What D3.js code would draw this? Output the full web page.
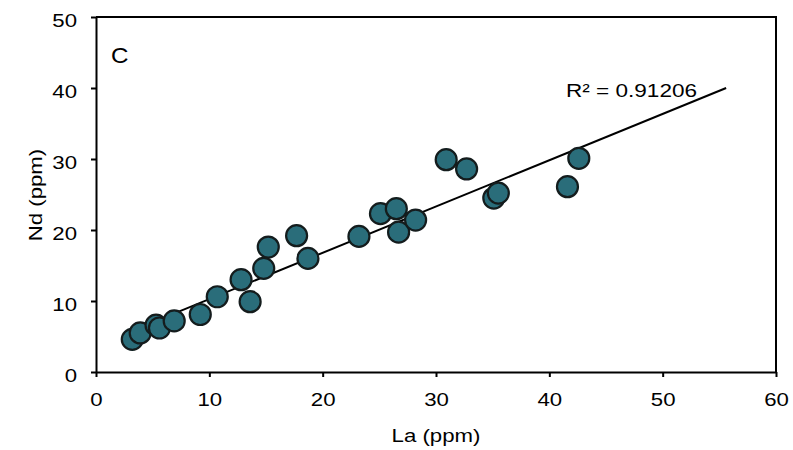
<!DOCTYPE html>
<html>
<head>
<meta charset="utf-8">
<script src="https://cdn.jsdelivr.net/npm/d3@7"></script>
<style>
  body { margin: 0; background: #fff; }
  text { font-family: "Liberation Sans", Arial, sans-serif; fill: #000; }
</style>
</head>
<body>
<script>
// La vs Nd (ppm)
var la = [3.2, 3.9, 5.3, 5.6, 6.9, 9.2, 10.7, 13.6, 12.8, 14.8, 15.2, 17.7,
          18.7, 23.2, 25.1, 26.5, 26.7, 28.2, 30.9, 32.7, 35.1, 35.5, 41.6, 42.6];
var nd = [4.6, 5.5, 6.6, 6.2, 7.2, 8.1, 10.6, 9.9, 13.0, 14.6, 17.6, 19.2,
          16.0, 19.1, 22.3, 23.0, 19.7, 21.4, 29.9, 28.6, 24.5, 25.2, 26.1, 30.1];

// trend line ends [La, Nd]
var trendLine = [[3.15, 5.8], [55.6, 40.0]];
var rSquared = "R\u00b2 = 0.91206";

var xTicks = [0, 10, 20, 30, 40, 50, 60];
var yTicks = [0, 10, 20, 30, 40, 50];

window.onload = drawChart;

function drawChart(){

	var width = 793,
		height = 450;

	var left = 96, right = 776, top = 17, bottom = 372;

	var svg = d3.select("body")
		.append("svg")
		.attr("width", width)
		.attr("height", height);

	var x = d3.scaleLinear().domain([0, 60]).range([left, right]);
	var y = d3.scaleLinear().domain([0, 50]).range([bottom, top]);

	// frame (top + right)
	svg.append("path")
		.attr("d", "M" + left + "," + top + "H" + right + "V" + bottom)
		.attr("fill", "none")
		.attr("stroke", "#000")
		.attr("stroke-width", 2);

	// left axis
	var yAxis = svg.append("g")
		.attr("transform", "translate(" + left + ",0)")
		.call(d3.axisLeft(y).tickValues(yTicks).tickSize(5).tickSizeOuter(0).tickFormat(d3.format("d")));

	// bottom axis
	var xAxis = svg.append("g")
		.attr("transform", "translate(0," + bottom + ")")
		.call(d3.axisBottom(x).tickValues(xTicks).tickSize(5).tickSizeOuter(0).tickFormat(d3.format("d")));

	[xAxis, yAxis].forEach(function(g){
		g.select(".domain").attr("stroke-width", 2);
		g.selectAll(".tick line").attr("stroke-width", 2);
		g.selectAll(".tick text")
			.attr("font-size", 18.5)
			.attr("font-family", "Liberation Sans, Arial, sans-serif")
			.attr("fill", "#000");
	});

	yAxis.selectAll(".tick text")
		.attr("x", 0).attr("dy", null).attr("y", 0)
		.attr("transform", "translate(-19,9.5) scale(1.2,1)");

	xAxis.selectAll(".tick text")
		.attr("y", 0).attr("dy", null)
		.attr("transform", "translate(0,34) scale(1.2,1)");

	// trend line
	svg.append("line")
		.attr("x1", x(trendLine[0][0])).attr("y1", y(trendLine[0][1]))
		.attr("x2", x(trendLine[1][0])).attr("y2", y(trendLine[1][1]))
		.attr("stroke", "#000")
		.attr("stroke-width", 2);

	// soft edge for markers
	svg.append("defs").append("filter")
		.attr("id", "soft")
		.append("feGaussianBlur")
		.attr("stdDeviation", 0.7);

	var points = la.map(function(d, i){ return [d, nd[i]]; });

	svg.selectAll(".pt")
		.data(points)
		.enter()
		.append("circle")
		.attr("class", "pt")
		.attr("cx", function(d){ return x(d[0]); })
		.attr("cy", function(d){ return y(d[1]); })
		.attr("r", 10.5)
		.attr("fill", "#2a6d7a")
		.attr("stroke", "#121c1e")
		.attr("stroke-width", 2.2)
		.attr("filter", "url(#soft)");

	// r squared
	svg.append("text")
		.attr("transform", "translate(566,97) scale(1.22,1)")
		.attr("font-size", 18.5)
		.text(rSquared);

	// panel letter
	svg.append("text")
		.attr("transform", "translate(111,63) scale(1.1,1)")
		.attr("font-size", 22)
		.text("C");

	// axis titles
	svg.append("text")
		.attr("transform", "translate(436,442) scale(1.2,1)")
		.attr("text-anchor", "middle")
		.attr("font-size", 18.5)
		.text("La (ppm)");

	svg.append("text")
		.attr("transform", "translate(42,195) rotate(-90) scale(1.2,1)")
		.attr("text-anchor", "middle")
		.attr("font-size", 18.5)
		.text("Nd (ppm)");
}
</script>
</body>
</html>
